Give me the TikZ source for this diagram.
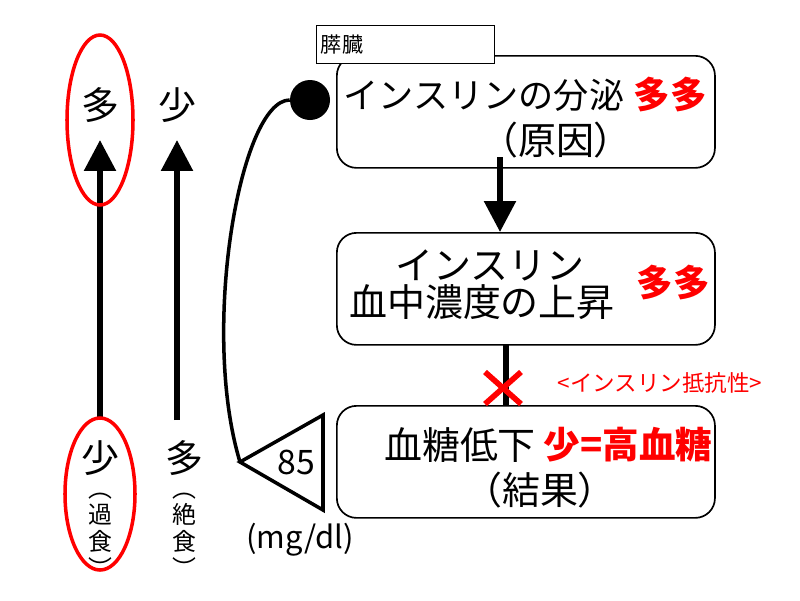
\documentclass[tikz,border=0pt]{standalone}
\usepackage{fontspec}
\setmainfont{Noto Sans CJK JP}
\usetikzlibrary{arrows.meta}
\tikzset{
	stage/.style={draw, line width=1.2pt, rounded corners=14pt, minimum width=9.45cm, minimum height=2.8cm, anchor=north west},
	big/.style={font=\fontsize{27}{31}\selectfont, inner sep=0pt},
	hot/.style={text=red, font=\fontsize{26}{30}\selectfont\bfseries, inner sep=0pt},
	small/.style={font=\fontsize{17}{19}\selectfont, align=center, inner sep=0pt},
	bigarrow/.style={line width=4pt, -{Triangle[length=22pt, width=22pt]}}
}
\begin{document}
\begin{tikzpicture}[x=0.025cm, y=-0.025cm]
	\useasboundingbox (0,0) rectangle (800,600);

	% Stages
	\node[stage] (cause) at (336,55) {};
	\node[stage] (level) at (336,232) {};
	\node[stage] (effect) at (336,405) {};
	\node[draw, thin, fill=white, anchor=north west, minimum width=4.45cm, minimum height=0.95cm, inner sep=2pt] (organ) at (316,25) {};
	\node[anchor=west, font=\fontsize{15}{17}\selectfont] at (organ.west) {膵臓};

	% Texts in the stages
	\node[big, font=\fontsize{25}{29}\selectfont] (t1) at (484,95) {インスリンの分泌};
	\node[hot] at (670,95) {多多};
	\node[big] at (556,140) {（原因）};
	\node[big] at (490,265) {インスリン};
	\node[big] at (482,302) {血中濃度の上昇};
	\node[hot] at (673,283) {多多};
	\node[big] at (460,445) {血糖低下};
	\node[hot] at (628,445) {少=高血糖};
	\node[big] at (540,490) {（結果）};

	% Arrows between stages
	\coordinate (a1) at (500,157);
	\coordinate (a2) at (500,232);
	\draw[bigarrow] (a1) -- (a2);
	\draw[line width=4pt] (506,345) -- (506,405);
	\coordinate (cross) at (503,388);
	\draw[red, line width=4pt] ([shift={(-18,-16)}]cross) -- ([shift={(18,16)}]cross)
		([shift={(18,-16)}]cross) -- ([shift={(-18,16)}]cross);
	\node[text=red, font=\fontsize{16}{18}\selectfont] at (660,383) {<インスリン抵抗性>};

	% Feedback loop
	\node[circle, fill=black, minimum size=1cm, inner sep=0pt] (dot) at (310,100) {};
	\coordinate (tip) at (240,462);
	\draw[line width=2.5pt] (dot.west) .. controls (240,100) and (200,330) .. (tip);
	\draw[line width=2.5pt] (tip) -- (323,415) -- (323,510) -- cycle;
	\node[font=\fontsize{24}{26}\selectfont] at (296,462) {85};
	\node[font=\fontsize{22}{24}\selectfont] at (300,540) {(mg/dl)};

	% Left scales
	\node[big] (up1) at (100,105) {多};
	\node[big] (up2) at (177,105) {少};
	\node[big] (lo1) at (100,458) {少};
	\node[big] (lo2) at (184,458) {多};
	\node[small] at (100,535) {︵\\過\\食\\︶};
	\node[small] at (184,535) {︵\\絶\\食\\︶};
	\draw[bigarrow] (100,420) -- (100,140);
	\draw[bigarrow] (177,420) -- (177,140);
	\draw[red, line width=2.5pt] (100,120) ellipse (33 and 85);
	\draw[red, line width=2.5pt] (100,494) ellipse (35 and 76);
\end{tikzpicture}
\end{document}
